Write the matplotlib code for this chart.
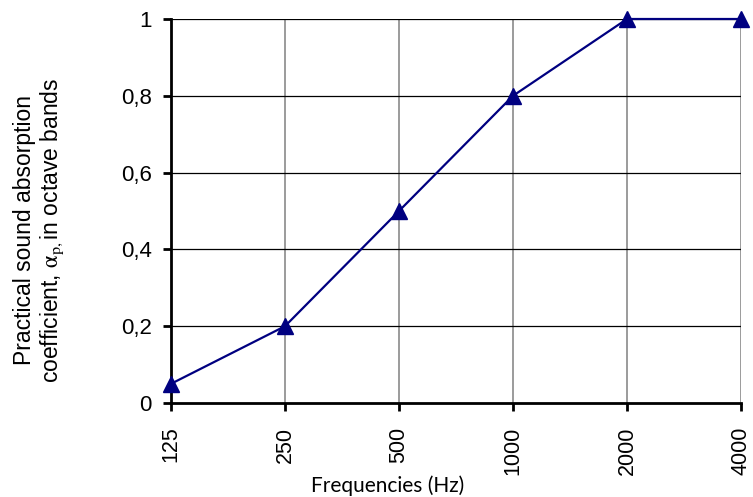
import matplotlib
matplotlib.use("Agg")
import matplotlib.pyplot as plt

freqs = ['125', '250', '500', '1000', '2000', '4000']
alpha_p = [0.05, 0.2, 0.5, 0.8, 1.0, 1.0]
yticks = [0, 0.2, 0.4, 0.6, 0.8, 1.0]
ytick_labels = ['0', '0,2', '0,4', '0,6', '0,8', '1']

plt.rcParams['font.family'] = ['Liberation Sans', 'DejaVu Sans']
plt.rcParams['mathtext.fontset'] = 'stix'

fig = plt.figure(figsize=(7.53, 4.97), dpi=100)
ax = fig.add_axes([171/753, 94/497, 570/753, 384/497])

x = list(range(len(freqs)))
ax.plot(x, alpha_p, color='#000080', lw=1.6, marker='^', ms=11,
        clip_on=False, zorder=5)

ax.set_xlim(0, len(freqs) - 1)
ax.set_ylim(0, 1)
ax.set_xticks(x)
ax.set_xticklabels(freqs, rotation=90, fontsize=15.5)
ax.set_yticks(yticks)
ax.set_yticklabels(ytick_labels, fontsize=16)

for xv in x[1:]:
    ax.axvline(xv, color='#808080', lw=1.1, zorder=1)
for yv in yticks[1:]:
    ax.axhline(yv, color='black', lw=0.9, zorder=1)

for s in ['top', 'right']:
    ax.spines[s].set_visible(False)
for s in ['left', 'bottom']:
    ax.spines[s].set_linewidth(2)
ax.tick_params(direction='out', length=6, width=2)
ax.tick_params(axis='x', pad=11)
ax.tick_params(axis='y', pad=8)

fig.text(388/753, 5/497, 'Frequencies (Hz)', family=['Lato', 'DejaVu Sans'],
         fontsize=15, ha='center', va='baseline')
fig.text(0.032, 0.537, 'Practical sound absorption', rotation=90,
         ha='center', va='center', fontsize=16.5)
fig.text(0.069, 0.537, r'coefficient, $\mathrm{\alpha}_{\mathrm{p},}$in octave bands', rotation=90,
         ha='center', va='center', fontsize=16.5)

fig.savefig('out.png', dpi=100)
